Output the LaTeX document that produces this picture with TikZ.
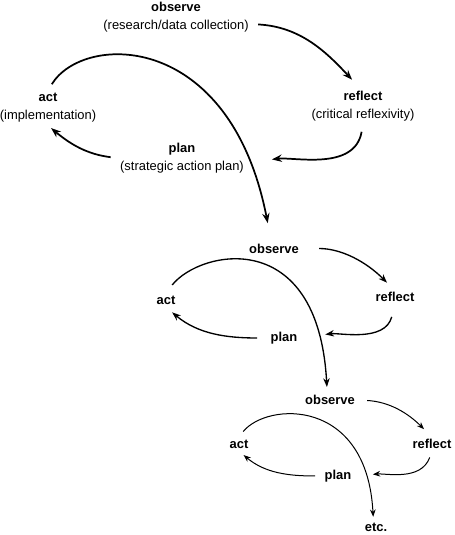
\documentclass[tikz,border=0pt]{standalone}
\usepackage{fontspec}
\setmainfont{Liberation Sans}
\usetikzlibrary{arrows.meta}
\begin{document}
\begin{tikzpicture}
  [x=0.75pt,y=0.75pt,
   every node/.style={align=center,inner sep=2pt,font=\fontsize{9.7}{13.5}\selectfont},
   big/.style={line width=1.3pt,-{Stealth[length=7.5pt,width=5.5pt,inset=2.5pt]}},
   med/.style={line width=1pt,-{Stealth[length=6.5pt,width=4.8pt,inset=2pt]}},
   sml/.style={line width=0.75pt,-{Stealth[length=5.5pt,width=4.2pt,inset=1.8pt]}}]
  \useasboundingbox (0,0) rectangle (454,535);

  % first cycle
  \node (obs1) at (176,517.5) {\textbf{observe}\\(research/data collection)};
  \node (ref1) at (363,429)   {\textbf{reflect}\\(critical reflexivity)};
  \node (pln1) at (182,377)   {\textbf{plan}\\(strategic action plan)};
  \node (act1) at (48,427)    {\textbf{act}\\(implementation)};

  % second cycle
  \node (obs2) at (274,286.5) {\textbf{observe}};
  \node (ref2) at (395,238)   {\textbf{reflect}};
  \node (pln2) at (284,197)   {\textbf{plan}};
  \node (act2) at (166,235)   {\textbf{act}};

  % third cycle
  \node (obs3) at (330,135)   {\textbf{observe}};
  \node (ref3) at (432,91.5)  {\textbf{reflect}};
  \node (pln3) at (338,59)    {\textbf{plan}};
  \node (act3) at (239,91)    {\textbf{act}};
  \node (etc)  at (376,7.5)   {\textbf{etc.}};

  \draw[big,shorten <=5pt,shorten >=8.5pt] (obs1.-5) to[out=-3,in=133] (ref1.100);
  \draw[big,shorten <=6pt,shorten >=19pt] (ref1.south) to[out=-100,in=7] (pln1.-4);
  \draw[big,shorten <=5pt,shorten >=3pt] (pln1.west) to[out=173,in=-40] (act1.south);
  \draw[big,shorten <=5.5pt,shorten >=13.5pt] (act1.north) .. controls (83,502) and (230,505) .. (obs2.110);

  \draw[med,shorten <=13pt,shorten >=7pt] (obs2.east) to[out=0,in=135] (ref2.100);
  \draw[med,shorten <=9.5pt,shorten >=19pt] (ref2.south) to[out=-105,in=8] (pln2.east);
  \draw[med,shorten <=8pt,shorten >=6pt] (pln2.west) to[out=180,in=-40] (act2.south);
  \draw[med,shorten <=7.5pt,shorten >=4pt] (act2.north) .. controls (200,285) and (318,310) .. (obs3.110);

  \draw[sml,shorten <=7pt,shorten >=7pt] (obs3.east) to[out=-3,in=135] (ref3.100);
  \draw[sml,shorten <=5pt,shorten >=14pt] (ref3.south) to[out=-110,in=5] (pln3.east);
  \draw[sml,shorten <=5pt,shorten >=4.5pt] (pln3.west) to[out=180,in=-40] (act3.south);
  \draw[sml,shorten <=5pt,shorten >=2.6pt] (act3.north) .. controls (267,133) and (367,138) .. (etc.110);
\end{tikzpicture}
\end{document}
